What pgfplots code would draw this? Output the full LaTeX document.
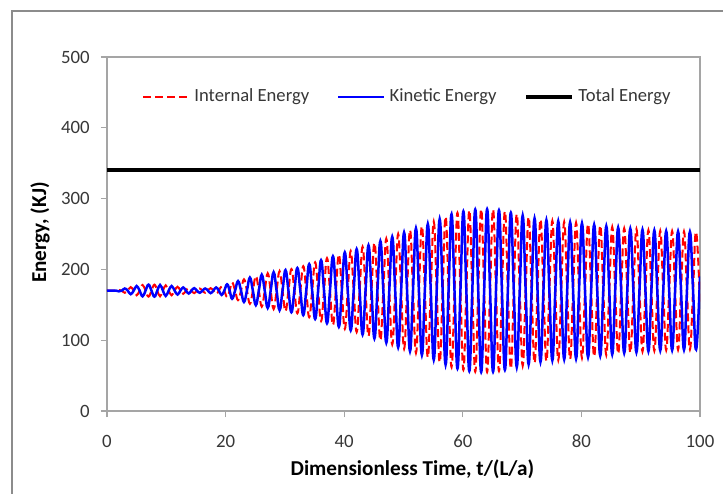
\documentclass[border=0pt]{standalone}
\usepackage{fontspec}
\setmainfont{Carlito}
\usepackage{pgfplots}
\pgfplotsset{compat=1.18}
\usepackage{pgfplotstable}
\definecolor{axgray}{RGB}{165,165,165}
\definecolor{framegray}{RGB}{140,140,140}
\definecolor{txtgray}{RGB}{55,55,55}
\pgfplotstableread{
t K I
0 170 170
1.5 170 170
2 169 171
2.5 170 170
3 173 167
3.5 170 170
4 165 175
4.5 170 170
5 176.5 163.5
5.5 170 170
6 162 178
6.5 170 170
7 178.5 161.5
7.5 170 170
8 161.5 178.5
8.48 170 170
8.95 178 162
9.43 170 170
9.9 162.5 177.5
10.4 170 170
10.9 176.5 163.5
11.4 170 170
11.9 164.5 175.5
12.38 170 170
12.85 174.5 165.5
13.32 170 170
13.78 166 174
14.24 170 170
14.7 173.5 166.5
15.17 170 170
15.63 167 173
16.09 170 170
16.55 173 167
17.02 170 170
17.48 166.5 173.5
17.94 170 170
18.4 174.5 165.5
18.87 170 170
19.33 164 176
19.79 170 170
20.25 179 161
20.68 170 170
21.1 158.5 181.5
21.6 170 170
22.1 183.5 156.5
22.6 170 170
23.1 154 186
23.6 170 170
24.1 188.5 151.5
24.6 170 170
25.1 149.5 190.5
25.6 170 170
26.1 192.5 147.5
26.6 170 170
27.1 145.5 194.5
27.6 170 170
28.1 196 144
28.6 170 170
29.1 142.5 197.5
29.6 170 170
30.1 199 141
30.6 170 170
31.1 139.5 200.5
31.6 170 170
32.1 202 138
32.6 170 170
33.1 135.5 204.5
33.6 170 170
34.1 207.5 132.5
34.6 170 170
35.1 130 210
35.6 170 170
36.1 213 127
36.6 170 170
37.1 124 216
37.6 170 170
38.1 218.5 121.5
38.6 170 170
39.1 119 221
39.6 170 170
40.1 224 116
40.6 170 170
41.1 114 226
41.6 170 170
42.1 228.5 111.5
42.6 170 170
43.1 108 232
43.6 170 170
44.1 234 106
44.6 170 170
45.1 102.5 237.5
45.6 170 170
46.1 240 100
46.6 170 170
47.1 96.5 243.5
47.6 170 170
48.1 246 94
48.6 170 170
49.1 90 250
49.6 170 170
50.1 252 88
50.6 170 170
51.1 84.5 255.5
51.6 170 170
52.1 258 82
52.6 170 170
53.1 79 261
53.6 170 170
54.1 264 76
54.6 170 170
55.1 72.5 267.5
55.6 170 170
56.1 271 69
56.6 170 170
57.1 65.5 274.5
57.6 170 170
58.1 278 62
58.6 170 170
59.1 60 280
59.6 170 170
60.1 282 58
60.6 170 170
61.1 56.5 283.5
61.6 170 170
62.1 284.5 55.5
62.6 170 170
63.1 55 285
63.6 170 170
64.1 285 55
64.6 170 170
65.1 55.5 284.5
65.6 170 170
66.1 283.5 56.5
66.6 170 170
67.1 58 282
67.6 170 170
68.1 280 60
68.6 170 170
69.1 62 278
69.6 170 170
70.1 276 64
70.6 170 170
71.1 66 274
71.6 170 170
72.1 272 68
72.6 170 170
73.1 69.5 270.5
73.6 170 170
74.1 269.5 70.5
74.6 170 170
75.1 71.5 268.5
75.6 170 170
76.1 268 72
76.6 170 170
77.1 73 267
77.6 170 170
78.1 266.5 73.5
78.6 170 170
79.1 74 266
79.6 170 170
80.1 265 75
80.61 170 170
81.12 76 264
81.64 170 170
82.15 263 77
82.67 170 170
83.18 78 262
83.69 170 170
84.2 261 79
84.7 170 170
85.2 80 260
85.7 170 170
86.2 259 81
86.71 170 170
87.22 82 258
87.74 170 170
88.25 257.5 82.5
88.77 170 170
89.28 83 257
89.79 170 170
90.3 256 84
90.8 170 170
91.3 84.5 255.5
91.8 170 170
92.3 255 85
92.8 170 170
93.3 85.5 254.5
93.8 170 170
94.3 254 86
94.8 170 170
95.3 86 254
95.8 170 170
96.3 253.5 86.5
96.8 170 170
97.3 86.5 253.5
97.8 170 170
98.3 253 87
98.83 170 170
99.35 87 253
100 190 150
}\energy
\begin{document}
\begin{tikzpicture}
\useasboundingbox (-53.5pt,-41pt) rectangle (308pt,205.5pt);
\fill[white] (-53.5pt,-41pt) rectangle (308pt,205.5pt);
\draw[framegray, line width=0.75pt] (-47.6pt,-50pt) -- (-47.6pt,200pt) -- (320pt,200pt);
\begin{axis}[
  at={(0pt,0pt)}, anchor=south west,
  scale only axis, width=296.5pt, height=177pt,
  xmin=0, xmax=100, ymin=0, ymax=500,
  xtick={0,20,...,100}, ytick={0,100,...,500},
  xtick pos=bottom, ytick pos=left,
  tick align=outside, major tick length=3pt,
  tick style={axgray, line width=0.6pt},
  axis line style={axgray, line width=0.6pt},
  /pgf/number format/assume math mode=true,
  ticklabel style={font=\fontsize{9.4}{11}\selectfont, text=txtgray},
  xticklabel style={anchor=center, yshift=-12pt},
  yticklabel style={anchor=east, inner sep=0pt, xshift=-5.5pt},
  xlabel={Dimensionless Time, t/(L/a)},
  ylabel={Energy, (KJ)},
  label style={font=\fontsize{10.6}{12}\selectfont\bfseries, text=black},
  xlabel style={at={(axis description cs:0.515,-0.165)}, anchor=center},
  ylabel style={at={(axis description cs:-0.113,0.504)}, anchor=center},
  legend columns=3,
  legend style={at={(axis description cs:0.049,0.887)}, anchor=west, draw=none, fill=none,
    font=\fontsize{9.3}{11}\selectfont, text=txtgray,
    /tikz/every even column/.append style={column sep=12pt}},
  legend image code/.code={\draw[#1] (0pt,0pt) -- (23pt,0pt);},
]
\addplot[red, line width=1pt, dash pattern=on 4pt off 2pt, smooth, tension=0.75] table[x=t,y=I]{\energy};
\addlegendentry{Internal Energy}
\addplot[blue, line width=1.25pt, smooth, tension=0.75] table[x=t,y=K]{\energy};
\addlegendentry{Kinetic Energy}
\addplot[black, line width=2pt] coordinates {(0,340) (100,340)};
\addlegendentry{Total Energy}
\end{axis}
\end{tikzpicture}
\end{document}
